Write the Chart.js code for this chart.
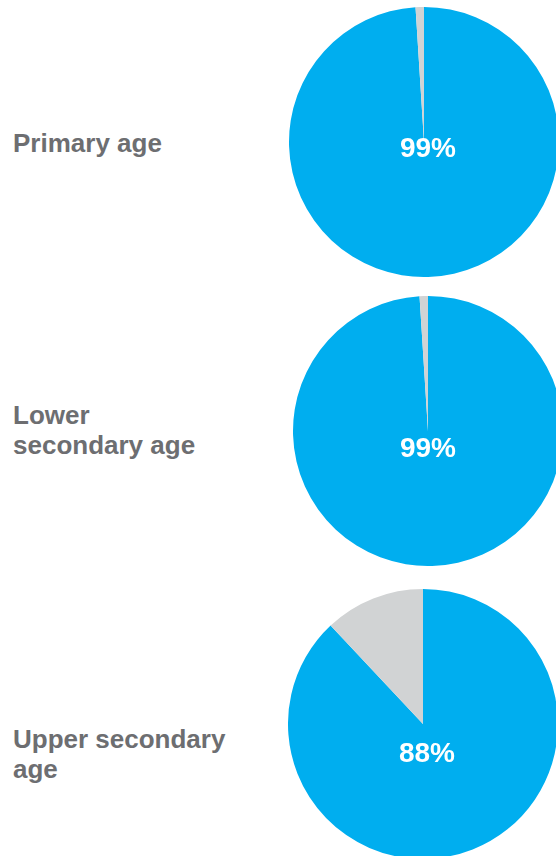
<!DOCTYPE html>
<html>
<head>
<meta charset="utf-8">
<script src="https://cdn.jsdelivr.net/npm/chart.js@4/dist/chart.umd.min.js"></script>
<style>
  html, body { margin: 0; padding: 0; background: #fff; }
  body { width: 556px; height: 856px; position: relative; overflow: hidden; }
  .cat {
    position: absolute; left: 13px;
    font-family: "Liberation Sans", Arial, sans-serif;
    font-weight: bold; font-size: 26px; line-height: 30px;
    color: #6D6E71; white-space: nowrap;
  }
  canvas.pie { position: absolute; }
</style>
</head>
<body>
<script>
// Age groups (split into display lines) and share of children in / not in school
const categories = [
  ['Primary age'],
  ['Lower', 'secondary age'],
  ['Upper secondary', 'age']
];
const shareIn  = [99, 99, 88];
const shareOut = [1, 1, 12];

// Layout for each row: label top, pie box and the value label's offset from the pie centre
const rows = [
  { labelTop: 128, left: 289, top: 7,   size: 270, dx: 4, dy: 15 },
  { labelTop: 400, left: 293, top: 296, size: 270, dx: 0, dy: 26 },
  { labelTop: 724, left: 288, top: 589, size: 270, dx: 4, dy: 38 }
];

const BLUE = '#00AEEF';
const GREY = '#D1D3D4';

// Draws the in-school share as white text over the pie
const valueLabel = {
  id: 'valueLabel',
  afterDatasetsDraw(chart, args, opts) {
    const arc = chart.getDatasetMeta(0).data[0];
    const ctx = chart.ctx;
    ctx.save();
    ctx.font = 'bold 28px "Liberation Sans", Arial, sans-serif';
    ctx.fillStyle = '#fff';
    ctx.textAlign = 'center';
    ctx.textBaseline = 'alphabetic';
    ctx.fillText(opts.text, arc.x + opts.dx, arc.y + opts.dy);
    ctx.restore();
  }
};

categories.forEach((lines, i) => {
  const r = rows[i];

  const label = document.createElement('div');
  label.className = 'cat';
  label.style.top = r.labelTop + 'px';
  label.innerHTML = lines.join('<br>');
  document.body.appendChild(label);

  const cv = document.createElement('canvas');
  cv.className = 'pie';
  cv.width = r.size; cv.height = r.size;
  cv.style.left = r.left + 'px';
  cv.style.top = r.top + 'px';
  cv.style.width = r.size + 'px';
  cv.style.height = r.size + 'px';
  document.body.appendChild(cv);

  new Chart(cv, {
    type: 'pie',
    data: {
      labels: ['In school', 'Out of school'],
      datasets: [{
        data: [shareIn[i], shareOut[i]],
        backgroundColor: [BLUE, GREY],
        borderWidth: 0,
        hoverOffset: 0
      }]
    },
    options: {
      responsive: false,
      animation: false,
      devicePixelRatio: 1,
      layout: { padding: 0 },
      plugins: {
        legend: { display: false },
        tooltip: { enabled: false },
        valueLabel: { text: shareIn[i] + '%', dx: r.dx, dy: r.dy }
      }
    },
    plugins: [valueLabel]
  });
});
</script>
</body>
</html>
